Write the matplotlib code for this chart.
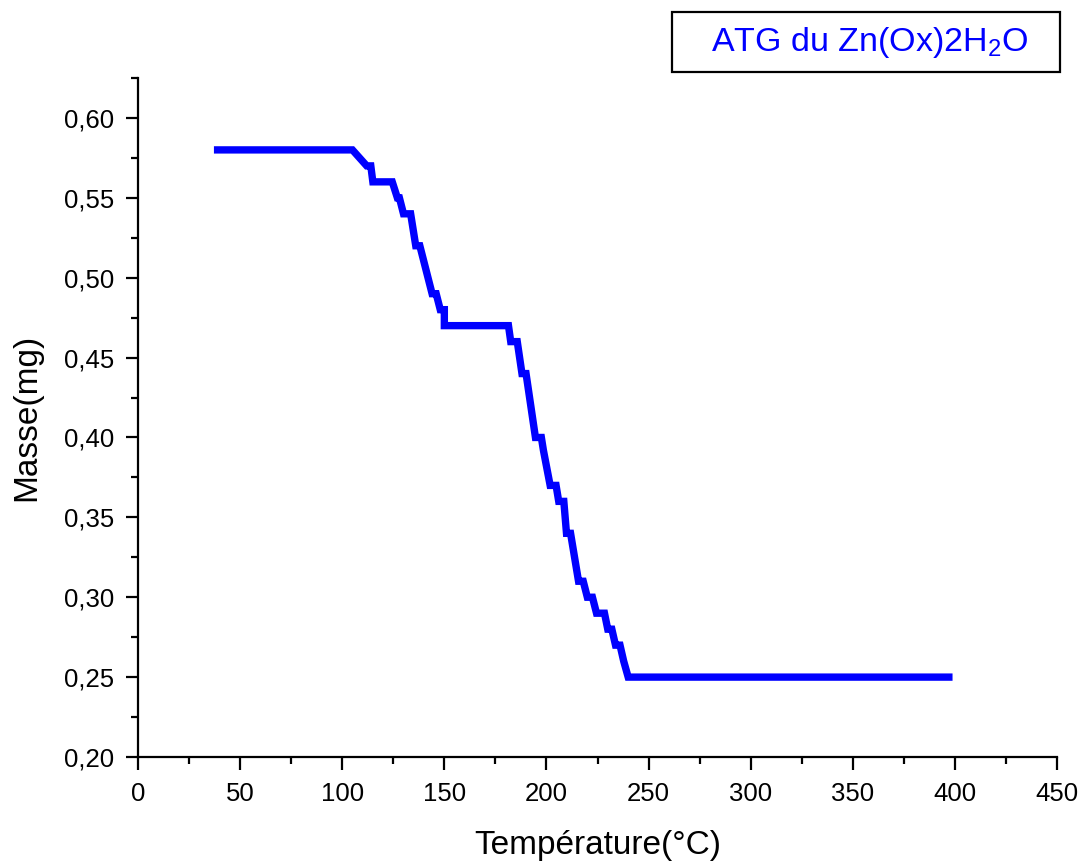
import matplotlib.pyplot as plt
from matplotlib.patches import Rectangle
from matplotlib.ticker import MultipleLocator

plt.rcParams['font.family'] = ['Liberation Sans', 'DejaVu Sans']
plt.rcParams['mathtext.default'] = 'regular'

# ── data ─────────────────────────────────────────────────────────────────────
temperature = [39, 105, 112, 114, 115, 124.5, 127, 128, 130, 133.5, 136, 138,
               144, 146, 148, 150, 150, 181.4, 182.5, 185.7, 188, 190, 194.6,
               197.5, 198.5, 201.8, 204.7, 206, 208.5, 209.8, 211.8, 215.7,
               218, 220, 222.5, 224.5, 228.4, 230, 232, 233.8, 236, 237.8,
               240, 397]
masse = [0.58, 0.58, 0.57, 0.57, 0.56, 0.56, 0.55, 0.55, 0.54, 0.54, 0.52, 0.52,
         0.49, 0.49, 0.48, 0.48, 0.47, 0.47, 0.46, 0.46, 0.44, 0.44, 0.40,
         0.40, 0.392, 0.37, 0.37, 0.36, 0.36, 0.34, 0.34, 0.31,
         0.31, 0.30, 0.30, 0.29, 0.29, 0.28, 0.28, 0.27, 0.27, 0.26,
         0.25, 0.25]

x_ticks = [0, 50, 100, 150, 200, 250, 300, 350, 400, 450]
y_ticks = [0.20, 0.25, 0.30, 0.35, 0.40, 0.45, 0.50, 0.55, 0.60]
y_ticklabels = ["0,20", "0,25", "0,30", "0,35", "0,40", "0,45", "0,50", "0,55", "0,60"]

title = "ATG du Zn(Ox)2H$_2$O"

fig = plt.figure(figsize=(10.82, 8.61), dpi=100)
ax = fig.add_axes([0.1275, 0.1208, 0.8495, 0.7886])

ax.plot(temperature, masse, color="#0000ff", linewidth=5.3, solid_joinstyle="miter")

ax.set_xlim(0, 450)
ax.set_ylim(0.20, 0.625)
ax.set_xticks(x_ticks)
ax.set_yticks(y_ticks)
ax.set_yticklabels(y_ticklabels)
ax.xaxis.set_minor_locator(MultipleLocator(25))
ax.yaxis.set_minor_locator(MultipleLocator(0.025))

ax.spines["top"].set_visible(False)
ax.spines["right"].set_visible(False)
for s in ("left", "bottom"):
    ax.spines[s].set_linewidth(1.6)

ax.tick_params(which="major", direction="out", length=9, width=1.6, labelsize=18.5)
ax.tick_params(axis="x", which="major", pad=9)
ax.tick_params(axis="y", which="major", pad=8)
ax.tick_params(which="minor", direction="out", length=5, width=1.6)

ax.set_xlabel("Température(°C)", fontsize=24, labelpad=17)
ax.set_ylabel("Masse(mg)", fontsize=24, labelpad=16)

# title box
fig.patches.append(Rectangle((672 / 1082, 1 - 72 / 861), 388 / 1082, 60 / 861,
                             transform=fig.transFigure, fill=False,
                             edgecolor="black", linewidth=1.6))
fig.text(870 / 1082, 1 - 43 / 861, title, color="#0000ff", fontsize=24.5,
         ha="center", va="center")

fig.savefig("out.png", dpi=100)
